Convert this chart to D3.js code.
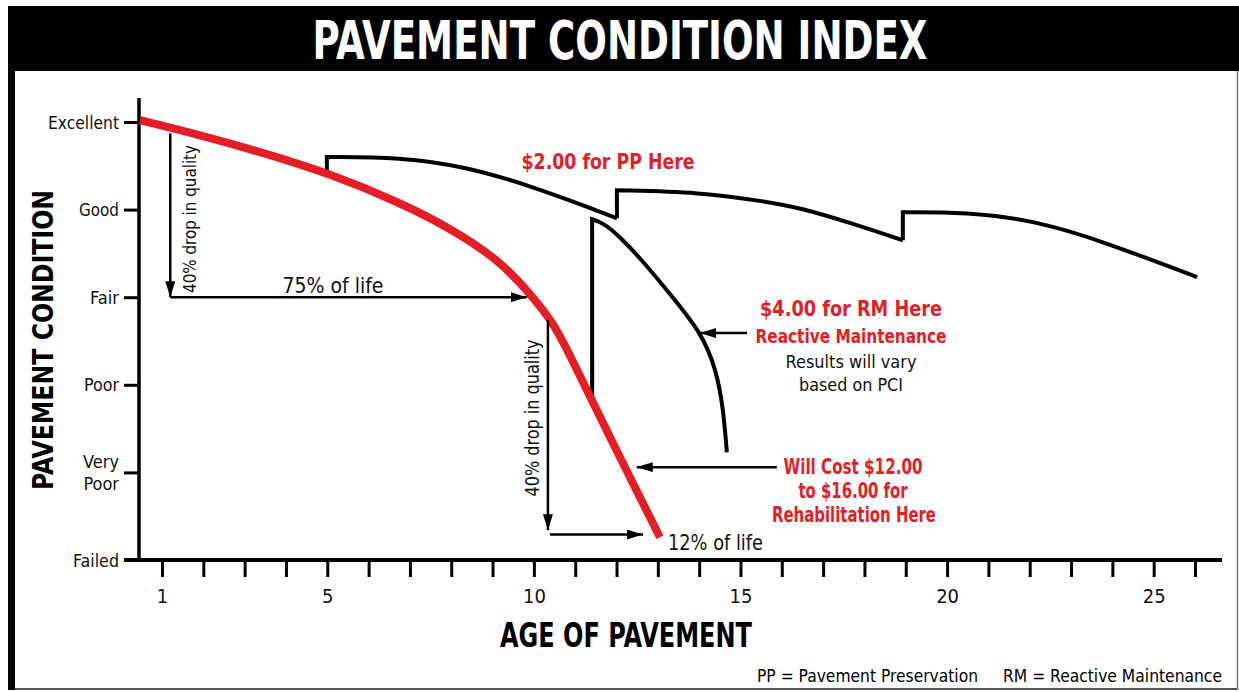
<!DOCTYPE html>
<html>
<head>
<meta charset="utf-8">
<script src="https://cdn.jsdelivr.net/npm/d3@7"></script>
<style>
    body { margin: 0; background: #fff; }
    svg text { font-family: "Liberation Sans Narrow", "DejaVu Sans Condensed", Roboto, "Liberation Sans", sans-serif; }
</style>
</head>
<body>
<div id="container"></div>
<script>
// condition levels, 0 = Failed up to 5 = Excellent
const conditionLabels = ["Failed", "Very Poor", "Poor", "Fair", "Good", "Excellent"];
const ageTicks = [1, 2, 3, 4, 5, 6, 7, 8, 9, 10, 11, 12, 13, 14, 15, 16, 17, 18, 19, 20, 21, 22, 23, 24, 25, 26];
const ageLabels = [1, 5, 10, 15, 20, 25];

// [age, condition]
const noMaintenance = [
    [0.47, 5.02], [1.92, 4.85], [3.37, 4.66], [5.07, 4.41], [6.76, 4.08], [7.97, 3.79],
    [9.18, 3.42], [9.98, 3.00], [10.44, 2.72], [10.76, 2.45], [11.84, 1.40], [13.05, 0.26]
];

// preservation treatments: first point is the foot of the jump
const ppArcs = [
    [[4.99, 4.43], [4.99, 4.60], [6.76, 4.60], [8.38, 4.49], [9.98, 4.26], [11.19, 4.05], [12.01, 3.90]],
    [[12.01, 3.90], [12.01, 4.22], [14.02, 4.20], [15.64, 4.09], [16.44, 4.02], [17.65, 3.85], [18.93, 3.65]],
    [[18.93, 3.65], [18.93, 3.97], [20.47, 3.97], [22.07, 3.88], [23.70, 3.65], [26.05, 3.23]]
];

// reactive maintenance: jump from the red curve, then decay
const rmArc = [
    [11.41, 1.83], [11.41, 3.89], [11.70, 3.84], [12.01, 3.72], [12.57, 3.45], [13.22, 3.08],
    [14.07, 2.59], [14.41, 2.17], [14.58, 1.75], [14.67, 1.23]
];

// annotation arrows [from, to]
const arrows = [
    [[1.20, 4.87], [1.20, 3.00]],
    [[1.20, 3.00], [9.83, 3.00]],
    [[10.34, 2.74], [10.34, 0.34]],
    [[10.39, 0.29], [12.64, 0.29]],
    [[15.16, 2.59], [14.02, 2.59]],
    [[15.88, 1.06], [12.49, 1.06]]
];

const red = "#e31e26";
const width = 1239, height = 692;

const svg = d3.select("#container").append("svg")
    .attr("width", width)
    .attr("height", height);

// frame
svg.append("rect").attr("x", 8).attr("y", 6).attr("width", width - 8).attr("height", 65).attr("fill", "#000");
svg.append("rect").attr("x", 8).attr("y", 6).attr("width", 7).attr("height", 684).attr("fill", "#000");
svg.append("line").attr("x1", 15).attr("x2", 1238).attr("y1", 689).attr("y2", 689)
    .attr("stroke", "#555").attr("stroke-width", 2);
svg.append("line").attr("x1", 1237.5).attr("x2", 1237.5).attr("y1", 71).attr("y2", 690)
    .attr("stroke", "#777").attr("stroke-width", 1.5);

svg.append("text")
    .attr("x", 620).attr("y", 59)
    .attr("text-anchor", "middle")
    .attr("fill", "#fff")
    .attr("font-size", 54).attr("font-weight", "bold")
    .attr("textLength", 615).attr("lengthAdjust", "spacingAndGlyphs")
    .text("PAVEMENT CONDITION INDEX");

const x = d3.scaleLinear().domain([1, 26]).range([162, 1195]);
const y = d3.scaleLinear().domain([0, 5]).range([560, 122]);

// axes
svg.append("line").attr("x1", 139).attr("x2", 139).attr("y1", 98).attr("y2", 561)
    .attr("stroke", "#000").attr("stroke-width", 3.5);
svg.append("line").attr("x1", 124).attr("x2", 1222).attr("y1", 560).attr("y2", 560)
    .attr("stroke", "#000").attr("stroke-width", 4);

const yAxis = svg.append("g")
    .attr("transform", "translate(139,0)")
    .call(d3.axisLeft(y).tickValues([0, 1, 2, 3, 4, 5]).tickSize(15).tickFormat(""));
yAxis.select(".domain").remove();
yAxis.selectAll(".tick line").attr("stroke-width", 3);

const yLabelWidths = [46, 34, 35, 29, 40, 71];
conditionLabels.forEach((lab, i) => {
    const words = lab.split(" ");
    const t = svg.append("text")
        .attr("text-anchor", "end")
        .attr("font-size", 18)
        .attr("fill", "#111");
    if (words.length === 1) {
        t.attr("x", 119).attr("y", y(i) + 6.5)
            .attr("textLength", yLabelWidths[i]).attr("lengthAdjust", "spacingAndGlyphs")
            .text(lab);
    } else {
        words.forEach((w, j) => {
            t.append("tspan").attr("x", 119).attr("y", y(i) - 4.5 + j * 22).text(w);
        });
    }
});

const xAxis = svg.append("g")
    .attr("transform", "translate(0,561)")
    .call(d3.axisBottom(x).tickValues(ageTicks).tickSize(16)
        .tickFormat(d => ageLabels.includes(d) ? d : ""));
xAxis.select(".domain").remove();
xAxis.selectAll(".tick line").attr("stroke-width", 3);
xAxis.selectAll(".tick text")
    .attr("y", 42)
    .attr("dy", 0)
    .attr("font-size", 20)
    .attr("fill", "#111");

svg.append("text")
    .attr("transform", "translate(53,340) rotate(-90)")
    .attr("text-anchor", "middle")
    .attr("font-size", 28).attr("font-weight", "bold")
    .attr("textLength", 300).attr("lengthAdjust", "spacingAndGlyphs")
    .text("PAVEMENT  CONDITION");

svg.append("text")
    .attr("x", 626).attr("y", 647)
    .attr("text-anchor", "middle")
    .attr("font-size", 34).attr("font-weight", "bold")
    .attr("textLength", 252).attr("lengthAdjust", "spacingAndGlyphs")
    .text("AGE OF PAVEMENT");

svg.append("text")
    .attr("x", 757).attr("y", 682)
    .attr("font-size", 17)
    .attr("textLength", 221).attr("lengthAdjust", "spacingAndGlyphs")
    .text("PP = Pavement Preservation");
svg.append("text")
    .attr("x", 1003).attr("y", 682)
    .attr("font-size", 17)
    .attr("textLength", 219).attr("lengthAdjust", "spacingAndGlyphs")
    .text("RM = Reactive Maintenance");

// curves
const line = d3.line()
    .x(d => x(d[0]))
    .y(d => y(d[1]))
    .curve(d3.curveBasis);

// vertical jump then the smooth decay curve
function jumpPath(pts) {
    return `M${x(pts[0][0])},${y(pts[0][1])}` + line(pts.slice(1)).replace(/^M/, "L");
}

ppArcs.forEach(arc => {
    svg.append("path")
        .attr("d", jumpPath(arc))
        .attr("fill", "none")
        .attr("stroke", "#000")
        .attr("stroke-width", 4)
        .attr("stroke-linejoin", "miter");
});

svg.append("path")
    .attr("d", jumpPath(rmArc))
    .attr("fill", "none")
    .attr("stroke", "#000")
    .attr("stroke-width", 4)
    .attr("stroke-linejoin", "miter");

svg.append("path")
    .datum(noMaintenance)
    .attr("d", line)
    .attr("fill", "none")
    .attr("stroke", red)
    .attr("stroke-width", 8);

// arrows
svg.append("defs").append("marker")
    .attr("id", "head")
    .attr("viewBox", "0 0 16 10")
    .attr("refX", 16).attr("refY", 5)
    .attr("markerUnits", "userSpaceOnUse")
    .attr("markerWidth", 16).attr("markerHeight", 10)
    .attr("orient", "auto")
    .append("path")
    .attr("d", "M0,0L16,5L0,10Z")
    .attr("fill", "#000");

svg.selectAll(".arrow")
    .data(arrows)
    .join("line")
    .attr("class", "arrow")
    .attr("x1", d => x(d[0][0])).attr("y1", d => y(d[0][1]))
    .attr("x2", d => x(d[1][0])).attr("y2", d => y(d[1][1]))
    .attr("stroke", "#000")
    .attr("stroke-width", 2.5)
    .attr("marker-end", "url(#head)");

// notes
function note(txt, px, py, opts) {
    const t = svg.append("text")
        .attr("x", px).attr("y", py)
        .attr("text-anchor", opts.anchor || "middle")
        .attr("font-size", opts.size)
        .attr("font-weight", opts.bold ? "bold" : "normal")
        .attr("fill", opts.color || "#111")
        .text(txt);
    if (opts.len) t.attr("textLength", opts.len).attr("lengthAdjust", "spacingAndGlyphs");
    if (opts.rotate) t.attr("transform", `rotate(-90,${px},${py})`);
    return t;
}

note("40% drop in quality", 196, 219, { size: 18, len: 148, rotate: true });
note("40% drop in quality", 539, 418, { size: 19, len: 157, rotate: true });
note("75% of life", 333, 293, { size: 21, len: 101 });
note("12% of life", 668, 550, { size: 21, len: 95, anchor: "start" });

note("$2.00 for PP Here", 608, 169, { size: 22, bold: true, color: red, len: 173 });
note("$4.00 for RM Here", 851, 316, { size: 22, bold: true, color: red, len: 182 });
note("Reactive Maintenance", 851, 343, { size: 19, bold: true, color: red, len: 191 });
note("Results will vary", 851, 368, { size: 18, len: 131 });
note("based on PCI", 851, 391, { size: 18, len: 104 });
note("Will Cost $12.00", 853, 474, { size: 21, bold: true, color: red, len: 139 });
note("to $16.00 for", 853, 498, { size: 21, bold: true, color: red, len: 109 });
note("Rehabilitation Here", 854, 522, { size: 21, bold: true, color: red, len: 164 });
</script>
</body>
</html>
